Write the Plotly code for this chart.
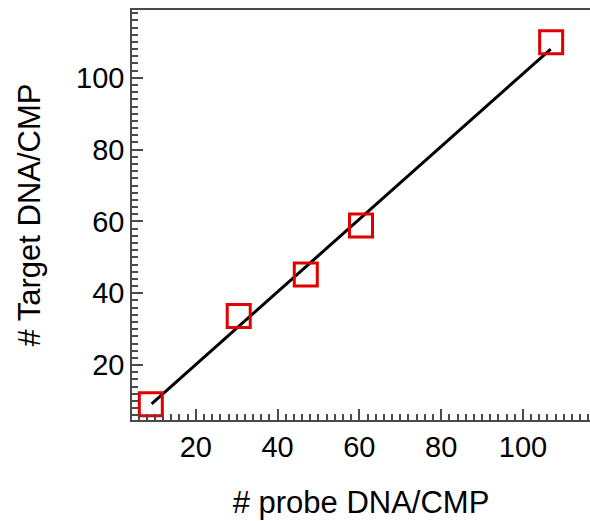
import plotly.graph_objects as go

# data
probe = [9.0, 30.5, 46.9, 60.4, 106.9]
target = [9.1, 33.7, 45.2, 58.9, 109.9]
fit_x = [9.2, 106.8]
fit_y = [9.2, 108.0]
major_ticks = [20, 40, 60, 80, 100]
medium_ticks = [10, 30, 50, 70, 90, 110]

X_RANGE = [4.4, 116.4]
Y_RANGE = [4.7, 118.9]
AX = "#4a4a4a"
FONT = "Arial, Liberation Sans, sans-serif"

fig = go.Figure()
fig.add_trace(go.Scatter(x=fit_x, y=fit_y, mode="lines",
                         line=dict(color="black", width=3), showlegend=False))
fig.add_trace(go.Scatter(x=probe, y=target, mode="markers",
                         marker=dict(symbol="square-open", size=23, color="#e00000",
                                     line=dict(width=3, color="#e00000")),
                         showlegend=False))

common = dict(showgrid=False, zeroline=False, ticks="inside", tickcolor=AX, tickwidth=1.5)
fig.update_layout(
    width=590, height=521,
    margin=dict(l=132, r=0, t=10, b=101),
    plot_bgcolor="white", paper_bgcolor="white",
    font=dict(family=FONT, color="black", size=29),
    xaxis=dict(range=X_RANGE, tickvals=major_ticks, ticklen=11,
               showline=True, linecolor=AX, linewidth=1.5, mirror=True,
               minor=dict(dtick=2, tick0=0, ticklen=6, ticks="inside", tickcolor=AX, tickwidth=1.5),
               title=dict(text="# probe DNA/CMP", font=dict(size=31), standoff=30),
               tickfont=dict(size=29), **common),
    yaxis=dict(range=Y_RANGE, tickvals=major_ticks, ticklen=11,
               showline=True, linecolor=AX, linewidth=1.5, mirror=False,
               minor=dict(dtick=2, tick0=0, ticklen=6, ticks="inside", tickcolor=AX, tickwidth=1.5),
               title=dict(text="# Target DNA/CMP", font=dict(size=31), standoff=26),
               tickfont=dict(size=29), **common),
    xaxis2=dict(overlaying="x", matches="x", range=X_RANGE, tickvals=medium_ticks, ticklen=9,
                showticklabels=False, showline=False, side="bottom", **common),
    yaxis2=dict(overlaying="y", matches="y", range=Y_RANGE, tickvals=medium_ticks, ticklen=9,
                showticklabels=False, showline=False, side="left", **common),
)
fig.write_html("out.html", config={"displayModeBar": False},
               post_script="document.body.style.margin='0';document.body.style.overflow='hidden';")
